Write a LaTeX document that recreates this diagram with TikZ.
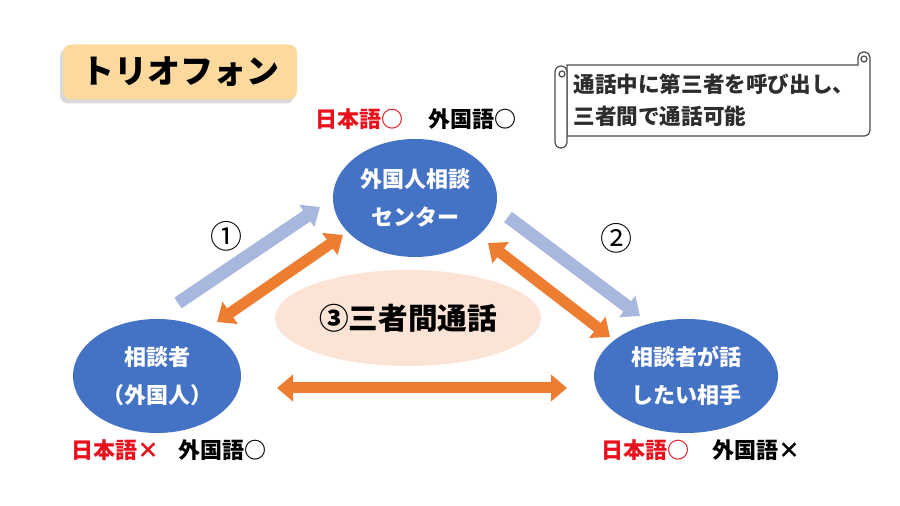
\documentclass[tikz,border=0pt]{standalone}
\usepackage{fontspec}
\newfontfamily\jp{Noto Sans CJK JP}
\usetikzlibrary{shapes.geometric,arrows.meta,shadows}
\definecolor{partyblue}{RGB}{68,114,196}
\definecolor{askblue}{RGB}{168,183,222}
\definecolor{callorange}{RGB}{237,125,49}
\definecolor{talkpale}{RGB}{251,228,214}
\definecolor{titlefill}{RGB}{253,217,158}
\definecolor{jpred}{RGB}{232,16,28}
\definecolor{notegray}{RGB}{45,45,45}
\begin{document}
\begin{tikzpicture}[x=0.5pt,y=-0.5pt,
    party/.style={ellipse, fill=partyblue, text=white, inner sep=0pt, align=center,
      font=\jp\bfseries\fontsize{11}{19}\selectfont},
    lang/.style={anchor=west, inner sep=0pt, font=\jp\bfseries\fontsize{11}{13}\selectfont},
    stepnum/.style={inner sep=0pt, font=\jp\fontsize{16}{16}\selectfont},
    call/.style={draw=callorange, line width=5.5pt,
      {Triangle[width=13pt,length=8pt]}-{Triangle[width=13pt,length=8pt]}},
    ask/.style={draw=askblue, line width=6.5pt, -{Triangle[width=13pt,length=8pt]}},
    scrollln/.style={draw=black!70, line width=0.6pt}]
  \useasboundingbox (0,0) rectangle (900,506);

  \node[fill=titlefill, rounded corners=4pt, minimum width=117pt, minimum height=27.5pt,
    drop shadow={shadow xshift=-1.5pt, shadow yshift=-2pt, opacity=0.3},
    font=\jp\bfseries\fontsize{16.5}{18}\selectfont] (title) at (180,72) {トリオフォン};

  \filldraw[scrollln, fill=white] (567,65) -- (858,65) -- (858,58)
    arc[start angle=180, end angle=360, radius=6] -- (870,130)
    arc[start angle=0, end angle=90, radius=6] -- (567,136) -- cycle;
  \draw[scrollln] (864,59) circle[radius=3];
  \filldraw[scrollln, fill=white] (567,72) -- (567,142)
    arc[start angle=0, end angle=180, radius=6] -- (555,72)
    arc[start angle=180, end angle=360, radius=6] -- cycle;
  \draw[scrollln] (562,74) circle[radius=3];
  \node[anchor=west, align=left, inner sep=0pt, text=notegray,
    font=\jp\bfseries\fontsize{10.8}{16}\selectfont] (note) at (573,100)
    {通話中に第三者を呼び出し、\\三者間で通話可能};

  \node[ellipse, fill=talkpale, inner sep=0pt, minimum width=133pt, minimum height=48pt,
    font=\jp\bfseries\fontsize{14.8}{16}\selectfont] (talk) at (408,318) {③三者間通話};

  \coordinate (a1s) at (178,303);
  \coordinate (a1e) at (320,207);
  \coordinate (a2s) at (508,217);
  \coordinate (a2e) at (640,316);
  \coordinate (c1s) at (217,322);
  \coordinate (c1e) at (343,235);
  \coordinate (c2s) at (488,243);
  \coordinate (c2e) at (610,337);
  \coordinate (c3s) at (277,388);
  \coordinate (c3e) at (567,388);
  \draw[ask] (a1s) -- (a1e);
  \draw[ask] (a2s) -- (a2e);
  \draw[call] (c1s) -- (c1e);
  \draw[call] (c2s) -- (c2e);
  \draw[call] (c3s) -- (c3e);

  \node[party, minimum width=82pt, minimum height=59pt] (center) at (415,198)
    {外国人相談\\センター};
  \node[party, minimum width=84pt, minimum height=57pt] (caller) at (157,376)
    {相談者\\（外国人）};
  \node[party, minimum width=92pt, minimum height=57pt] (partner) at (686,376)
    {相談者が話\\したい相手};

  \node[stepnum] (one) at (226,236) {①};
  \node[stepnum] (two) at (616,238) {②};

  \node[lang, text=jpred] (jpT) at (315,119) {日本語○};
  \node[lang] (frT) at (428,119) {外国語○};
  \node[lang, text=jpred] (jpL) at (71,450) {日本語×};
  \node[lang] (frL) at (178,450) {外国語○};
  \node[lang, text=jpred] (jpR) at (601,450) {日本語○};
  \node[lang] (frR) at (712,450) {外国語×};
\end{tikzpicture}
\end{document}
